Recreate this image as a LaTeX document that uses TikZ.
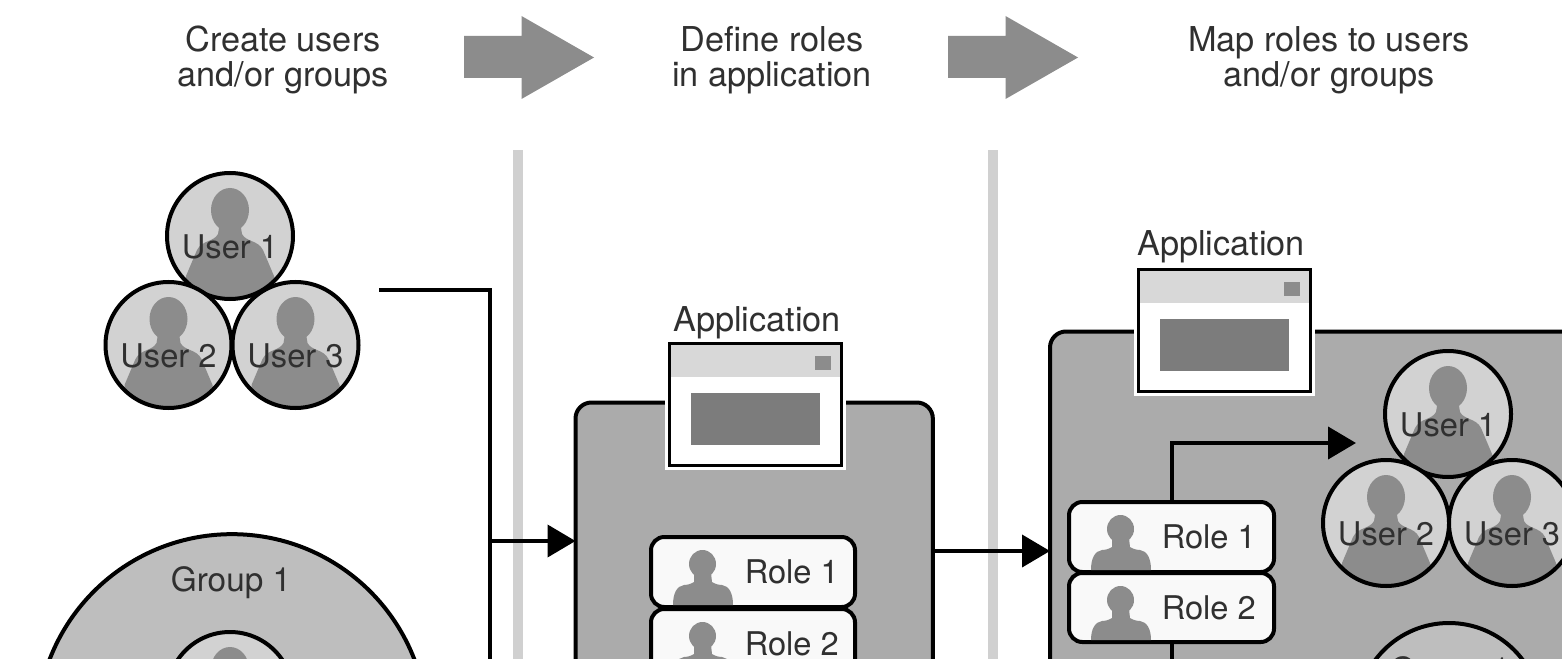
\documentclass[tikz,border=0pt]{standalone}
\usepackage{fontspec}
\setmainfont{TeX Gyre Heros}
\usetikzlibrary{arrows.meta}
\definecolor{txt}{HTML}{303030}
\definecolor{pers}{HTML}{8C8C8C}
\definecolor{usr}{HTML}{D2D2D2}
\definecolor{grp}{HTML}{BEBEBE}
\definecolor{panel}{HTML}{ABABAB}
\definecolor{rolefill}{HTML}{F9F9F9}
\definecolor{sep}{HTML}{D0D0D0}
\definecolor{winhead}{HTML}{D8D8D8}
\definecolor{winbody}{HTML}{7C7C7C}
\tikzset{
  lbl/.style={font=\fontsize{25.7}{25.7}\selectfont,text=txt,inner sep=0pt,anchor=base},
  userlbl/.style={font=\fontsize{24.5}{24.5}\selectfont,text=txt,inner sep=0pt,anchor=base},
  rolelbl/.style={font=\fontsize{24.5}{24.5}\selectfont,text=txt,inner sep=0pt,anchor=base west},
  grouplbl/.style={font=\fontsize{25}{25}\selectfont,text=txt,inner sep=0pt,anchor=base},
  outline/.style={draw=black,line width=3pt,outer sep=0pt},
  conn/.style={draw=black,line width=3pt},
  tipped/.style={conn,-{Triangle[length=21pt,width=24pt]}},
}
\newcommand{\userdisc}[4]{% name, x, y, label
  \begin{scope}
    \clip (#2,#3) circle (63);
    \fill[usr] (#2,#3) circle (63);
    \begin{scope}[shift={(#2,#3)}]
      \fill[pers] (0,-26) ellipse (19 and 22);
      \fill[pers] (-11,-8) -- (-12,-2) .. controls (-16,6) and (-28,4) .. (-33,14) -- (-44,40) -- (-44,70) -- (44,70) -- (44,40) -- (33,14) .. controls (28,4) and (16,6) .. (12,-2) -- (11,-8) -- cycle;
    \end{scope}
  \end{scope}
  \node[outline,circle,minimum size=94.5pt,inner sep=0pt] (#1) at (#2,#3) {};
  \node[userlbl] (#1t) at (#2,#3+22.5) {#4};
}
\newcommand{\rolebox}[7]{% name, left, top, right, bottom, label, label left
  \node[outline,fill=rolefill,rounded corners=10pt,minimum width={(#4-#2)*0.75pt},minimum height={(#5-#3)*0.75pt},inner sep=0pt] (#1) at ({(#2+#4)/2},{(#3+#5)/2}) {};
  \fill[pers] (#2+51.5,#3+27) ellipse (13.5 and 14);
  \fill[pers] (#2+43,#3+36) -- (#2+60,#3+36) -- (#2+61,#3+45) .. controls (#2+64,#3+47) and (#2+68,#3+48) .. (#2+71,#3+48) .. controls (#2+78,#3+49) and (#2+82,#3+56) .. (#2+82,#5-2) -- (#2+22,#5-2) .. controls (#2+22,#3+56) and (#2+26,#3+49) .. (#2+33,#3+48) .. controls (#2+36,#3+48) and (#2+40,#3+47) .. (#2+43,#3+45) -- cycle;
  \node[rolelbl] (#1t) at (#7,#3+46) {#6};
}
\newcommand{\appwin}[3]{% name, left, top
  \begin{scope}[shift={(#2,#3)}]
    \fill[white] (-3,-3) rectangle (178,128);
    \fill[white] (0,0) rectangle (175,125);
    \fill[winhead] (0,0) rectangle (175,35);
    \fill[pers] (147,14) rectangle (163,28);
    \fill[winbody] (23,51) rectangle (152,103);
    \node[draw=black,line width=2.4pt,minimum width=129pt,minimum height=91.5pt,inner sep=0pt] (#1) at (87.5,62.5) {};
  \end{scope}
}
\newcommand{\bigarrow}[1]{%
  \fill[pers] (#1,36) -- (#1+57.5,36) -- (#1+57.5,16) -- (#1+130,57.5) -- (#1+57.5,99) -- (#1+57.5,78) -- (#1,78) -- cycle;
}
\begin{document}
\begin{tikzpicture}[x=0.75pt,y=-0.75pt]
\useasboundingbox (0,0) rectangle (1562,659);
\clip (0,0) rectangle (1562,659);
\fill[white] (0,0) rectangle (1562,659);
% heads
\node[lbl] (h1a) at (283,52) {Create users};
\node[lbl] (h1b) at (283,87) {and/or groups};
\node[lbl] (h2a) at (772,52) {Define roles};
\node[lbl] (h2b) at (772,87) {in application};
\node[lbl] (h3a) at (1329,52) {Map roles to users};
\node[lbl] (h3b) at (1329,87) {and/or groups};
\bigarrow{464}
\bigarrow{948}
% separators
\fill[sep] (513,150) rectangle (523,659);
\fill[sep] (988,150) rectangle (998,659);
% panels
\node[outline,fill=panel,rounded corners=12pt,minimum width=268pt,minimum height=300pt,inner sep=0pt,anchor=north west] (panelA) at (575.5,402.5) {};
\node[outline,fill=panel,rounded corners=12pt,minimum width=500pt,minimum height=300pt,inner sep=0pt,anchor=north west] (panelB) at (1050,331.5) {};
% left users
\userdisc{ua}{230}{236}{User 1}
\userdisc{ub}{168.5}{345}{User 2}
\userdisc{uc}{295.5}{345}{User 3}
% left group
\node[outline,fill=grp,circle,minimum size=293pt,inner sep=0pt] (gA) at (232,729.5) {};
\node[grouplbl] (gAt) at (231,591) {Group 1};
\userdisc{ud}{230}{695}{}
% app, roles middle
\node[lbl] (appAt) at (757,331) {Application};
\appwin{appA}{668}{342}
\rolebox{ra}{651}{537}{855}{607}{Role 1}{744.5}
\rolebox{rb}{651}{609}{855}{679}{Role 2}{744.5}
% right
\node[lbl] (appBt) at (1221,256) {Application};
\appwin{appB}{1137}{268}
\userdisc{ue}{1448}{414}{User 1}
\userdisc{uf}{1386}{523}{User 2}
\userdisc{ug}{1512}{523}{User 3}
\node[outline,fill=grp,circle,minimum size=138pt,inner sep=0pt] (gB) at (1449,715) {};
\node[grouplbl] (gBt) at (1450,681) {Group 1};
\rolebox{rc}{1069}{502}{1274}{572}{Role 1}{1161.5}
\rolebox{rd}{1069}{573}{1274}{642}{Role 2}{1161.5}
% connectors
\coordinate (c0) at (379,290);
\coordinate (c1) at (490,290);
\coordinate (c2) at (490,670);
\coordinate (c3) at (490,541);
\draw[conn] (c0) -- (c1) -- (c2);
\draw[tipped] (c3) -- (panelA.west |- c3);
\coordinate (d0) at (933,551);
\draw[tipped] (d0) -- (panelB.west |- d0);
\coordinate (e1) at (1172,443);
\coordinate (e2) at (1356,443);
\draw[tipped] (rc.north -| e1) -- (e1) -- (e2);
\coordinate (f1) at (1172,670);
\draw[conn] (rd.south -| f1) -- (f1);
\end{tikzpicture}
\end{document}
